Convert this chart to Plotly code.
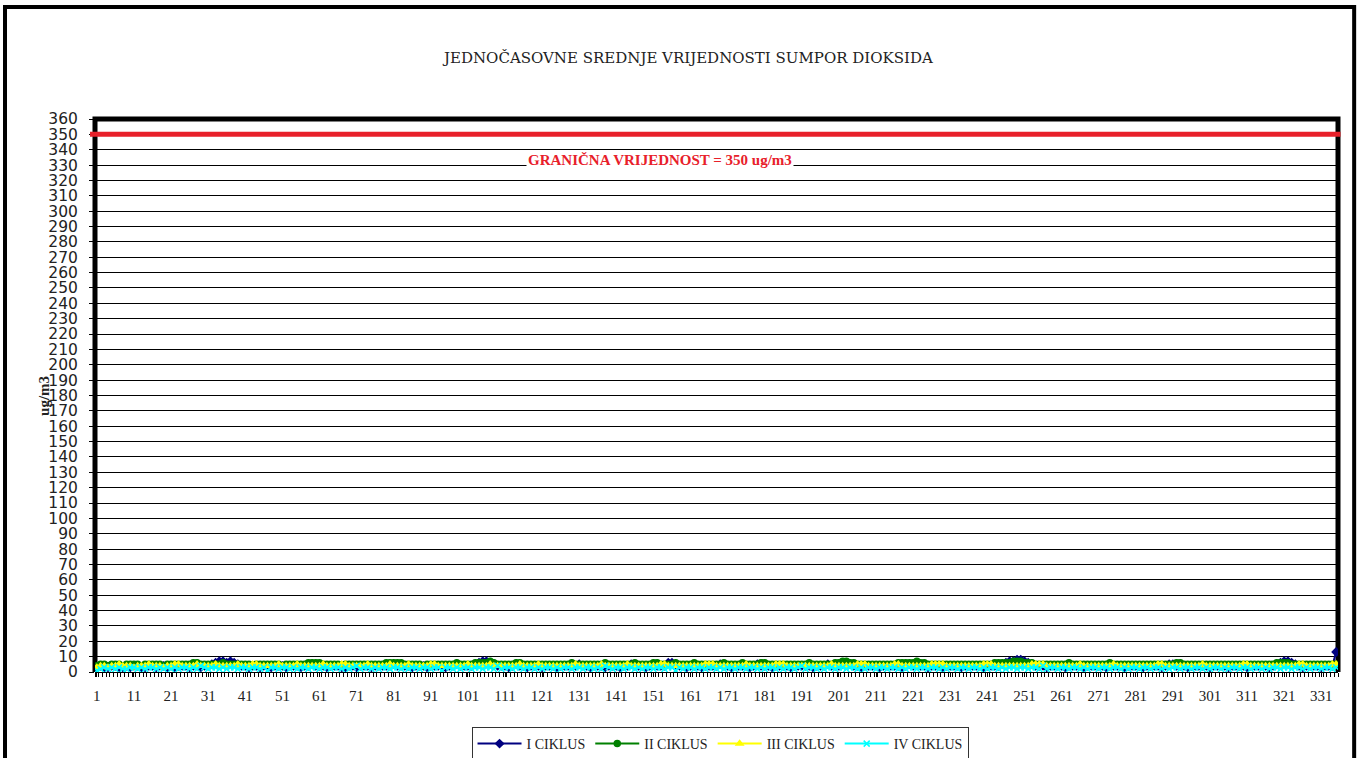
import plotly.graph_objects as go

# ---------------- DATA ----------------
series_names = ["I CIKLUS", "II CIKLUS", "III CIKLUS", "IV CIKLUS"]
limit_value = 350
limit_label = "GRANIČNA VRIJEDNOST = 350 ug/m3"
x_tick_labels = [str(v) for v in range(1, 332, 10)]

ciklus_1 = [
    3,4,3,3,4,4,3,3,4,3,4,4,3,3,4,4,3,4,4,3,
    4,3,4,4,4,3,4,4,3,4,4,5,6,7,7,6,7,6,5,4,
    4,3,4,4,3,4,4,3,4,4,4,3,4,4,4,3,4,4,5,4,
    4,4,3,4,4,4,3,3,4,4,3,4,4,4,3,4,4,4,4,4,
    5,4,4,4,4,3,4,4,4,3,4,4,4,4,3,4,4,5,4,4,
    4,4,5,6,7,7,6,5,4,4,4,3,4,5,4,4,3,4,4,4,
    3,4,4,4,3,4,4,4,4,4,5,4,4,3,4,4,4,3,4,4,
    4,3,4,4,5,4,4,4,3,4,5,4,4,4,6,6,5,4,4,3,
    4,4,4,3,4,4,4,4,5,4,4,3,4,4,4,4,3,4,5,4,
    4,4,3,4,4,4,4,3,4,4,4,4,4,3,4,4,4,5,4,4,
    4,5,6,5,4,4,3,4,4,4,4,3,4,4,4,4,4,3,4,5,
    4,5,4,4,3,4,4,4,3,4,4,4,4,3,4,4,4,4,4,3,
    4,4,4,4,5,6,7,7,8,8,7,6,5,4,4,4,3,4,4,4,
    4,3,4,4,4,4,3,4,4,4,4,4,3,4,4,4,4,3,4,4,
    4,4,3,4,4,4,4,3,4,5,5,4,4,4,3,4,4,4,4,4,
    3,4,4,4,4,3,4,4,4,4,3,4,4,4,4,4,3,4,5,6,
    7,7,6,5,4,3,4,4,4,4,3,4,4,4,13,
]

ciklus_2 = [
    4,5,5,4,5,5,5,4,5,5,5,5,4,5,5,5,5,5,4,5,
    5,5,5,5,5,5,6,6,5,5,5,5,5,5,6,5,5,5,5,5,
    5,5,4,5,5,5,5,5,5,5,4,5,5,5,5,5,5,6,6,6,
    6,5,5,5,5,5,4,5,5,5,5,5,5,5,5,5,5,5,6,6,
    6,6,6,5,5,5,5,5,4,5,5,5,5,5,5,5,5,6,5,5,
    5,5,6,6,6,6,7,6,5,5,5,5,5,6,6,5,5,5,5,5,
    5,5,5,5,5,5,5,5,6,5,5,5,5,5,5,5,5,6,5,5,
    5,5,5,5,5,6,5,5,5,5,6,6,5,5,5,5,6,5,5,5,
    5,6,5,5,5,5,5,5,5,6,5,5,5,5,6,5,5,5,5,6,
    6,5,5,5,5,5,5,5,5,5,5,5,6,5,5,5,5,5,5,6,
    6,7,7,6,6,5,5,5,5,5,5,5,5,5,5,5,6,6,6,6,
    6,7,6,6,5,5,5,5,5,5,5,5,5,5,5,5,5,5,5,5,
    5,5,6,6,6,6,6,7,7,7,6,6,6,5,5,5,5,5,5,5,
    5,5,6,5,5,5,5,5,5,5,5,5,5,6,5,5,5,5,5,5,
    5,5,5,5,5,5,5,5,5,5,5,6,6,5,5,5,5,5,5,5,
    5,5,5,5,5,5,5,5,5,5,5,5,5,5,5,5,5,5,6,6,
    6,6,5,5,5,5,5,5,5,5,5,5,5,5,5,
]

ciklus_3 = [
    3,4,4,3,4,4,5,4,4,4,3,4,4,4,5,4,4,4,3,4,
    4,5,5,4,4,4,4,5,4,4,4,4,5,4,4,4,4,4,5,4,
    4,4,5,5,4,4,4,4,4,5,4,4,4,4,5,4,4,4,4,4,
    4,5,4,4,4,4,5,5,4,4,4,4,4,5,4,4,4,4,4,5,
    4,4,4,4,5,4,4,4,4,4,5,5,4,4,4,4,4,4,4,4,
    5,4,4,4,4,4,5,4,4,4,4,4,4,4,5,4,4,4,4,5,
    4,4,4,4,4,4,4,4,4,5,4,4,4,4,4,4,5,4,4,4,
    4,4,4,5,4,4,4,4,4,4,4,4,5,5,4,4,4,4,4,4,
    4,4,4,4,5,5,5,4,4,4,4,4,4,4,4,5,4,4,4,4,
    4,4,4,5,5,5,4,4,4,4,4,4,4,4,4,4,4,4,5,4,
    4,4,4,4,4,5,5,5,4,4,4,4,4,4,4,5,5,4,4,4,
    4,4,4,4,4,5,5,5,5,4,4,4,4,4,4,4,4,4,4,5,
    5,5,4,4,4,4,4,4,4,4,4,4,5,5,5,5,4,4,4,4,
    4,4,4,4,4,5,4,4,4,4,4,4,4,4,5,4,4,4,4,4,
    4,4,4,4,4,4,5,5,4,4,4,4,4,4,4,4,4,4,5,4,
    4,4,4,4,4,4,4,4,4,5,5,4,4,4,4,4,4,4,4,4,
    4,4,4,4,5,5,4,4,4,4,4,4,4,5,5,
]

ciklus_4 = [
    1,2,3,2,3,2,3,2,2,3,3,2,3,2,3,3,2,3,2,3,
    2,3,2,3,3,2,3,2,4,3,2,3,3,2,3,2,3,3,2,3,
    3,2,3,3,2,3,1,3,3,2,3,3,2,3,2,3,3,2,3,3,
    2,3,3,2,3,3,2,3,2,3,4,2,3,3,2,3,2,3,3,2,
    3,3,2,3,2,3,3,2,3,3,2,3,3,1,3,3,2,3,2,3,
    3,2,3,3,2,3,3,2,4,2,3,3,2,3,3,2,3,3,2,3,
    2,3,3,2,3,2,3,3,2,3,3,2,3,3,2,3,2,4,3,2,
    3,3,2,3,3,2,3,2,3,3,2,3,3,2,3,3,1,3,2,3,
    3,2,3,3,2,3,3,2,3,2,3,3,2,3,3,2,3,3,2,3,
    2,3,3,2,3,2,3,3,2,3,4,2,3,3,2,3,2,3,3,2,
    3,3,2,3,3,2,3,2,3,3,2,3,3,2,3,3,2,3,2,3,
    3,2,3,3,2,3,3,2,3,2,3,3,2,3,3,2,3,3,2,3,
    2,3,3,2,3,2,3,3,2,3,3,2,3,3,2,4,2,3,3,2,
    3,3,2,3,3,2,3,2,3,3,2,3,3,2,3,3,2,3,2,3,
    3,2,3,3,2,3,3,2,3,2,3,3,2,3,3,2,3,3,2,3,
    2,3,3,2,3,2,3,3,2,3,3,2,3,3,2,3,2,3,3,2,
    3,3,2,3,3,2,3,2,3,3,2,3,3,2,3,
]

days = list(range(1, len(ciklus_1) + 1))

# ---------------- STYLES ----------------
colors = ["#000080", "#008000", "#FFFF00", "#00FFFF"]
symbols = ["diamond", "circle", "triangle-up", "x-thin"]
serif = "Liberation Serif"

fig = go.Figure()
for name, vals, col, sym in zip(series_names, [ciklus_1, ciklus_2, ciklus_3, ciklus_4], colors, symbols):
    fig.add_trace(go.Scatter(
        x=days, y=vals, name=name, mode="lines+markers",
        line=dict(color=col, width=2),
        marker=dict(symbol=sym, size=6, color=col, line=dict(color=col, width=1.5)),
    ))

# outer page frame
fig.add_shape(type="rect", xref="paper", yref="paper",
              x0=-0.0724, x1=1.013, y0=-0.17, y1=1.2025,
              line=dict(color="black", width=4), layer="below")
# plot area border (left, top, right)
fig.add_shape(type="path", xref="paper", yref="paper",
              path="M 0,0 L 0,1 L 1,1 L 1,0",
              line=dict(color="black", width=5), layer="below")
# limit line
fig.add_shape(type="line", xref="paper", yref="y",
              x0=-0.004, x1=1.002, y0=limit_value, y1=limit_value,
              line=dict(color="#E8202A", width=5), layer="above")

fig.add_annotation(x=0.4545, y=333, xref="paper", yref="y", text="<b>" + limit_label + "</b>",
                   showarrow=False, bgcolor="white", yanchor="middle",
                   font=dict(family=serif, size=15, color="#E8202A"))
fig.add_annotation(x=0.477, y=1.11, xref="paper", yref="paper", yanchor="middle",
                   text="JEDNOČASOVNE SREDNJE VRIJEDNOSTI SUMPOR DIOKSIDA",
                   showarrow=False, font=dict(family="DejaVu Serif", size=15, color="#222222"))
fig.add_annotation(x=-0.0415, y=0.5, xref="paper", yref="paper", text="<b>ug/m3</b>",
                   textangle=-90, showarrow=False, xanchor="center", yanchor="middle",
                   font=dict(family=serif, size=15, color="#222222"))

fig.update_layout(
    width=1357, height=758,
    margin=dict(l=95, r=19, t=119, b=86),
    paper_bgcolor="white", plot_bgcolor="white",
    showlegend=True,
    legend=dict(orientation="h", xref="container", yref="container",
                x=0.5306, xanchor="center", y=0.0409, yanchor="top",
                bordercolor="#333333", borderwidth=1,
                font=dict(family=serif, size=14, color="#222222"),
                itemwidth=44, tracegroupgap=0),
)
fig.update_xaxes(
    range=[0.5, len(days) + 0.5],
    tickmode="array", tickvals=list(range(1, 332, 10)), ticktext=x_tick_labels,
    showgrid=False, zeroline=False,
    showline=True, linecolor="black", linewidth=1,
    ticks="outside", ticklen=4, tickcolor="black",
    minor=dict(ticks="outside", dtick=1, tick0=0.5, ticklen=4, tickcolor="black"),
    tickfont=dict(family=serif, size=15, color="#222222"),
    ticklabelstandoff=6,
)
fig.update_yaxes(
    range=[0, 360], dtick=10, tick0=0,
    showgrid=True, gridcolor="black", gridwidth=1,
    zeroline=False, showline=False,
    ticks="outside", ticklen=5, tickcolor="black",
    tickfont=dict(family="DejaVu Sans", size=15.5, color="#222222"),
    ticklabelstandoff=8,
)

fig.write_html("out.html", config={"displayModeBar": False},
               post_script="document.body.style.margin='0';document.body.style.overflow='hidden';")
